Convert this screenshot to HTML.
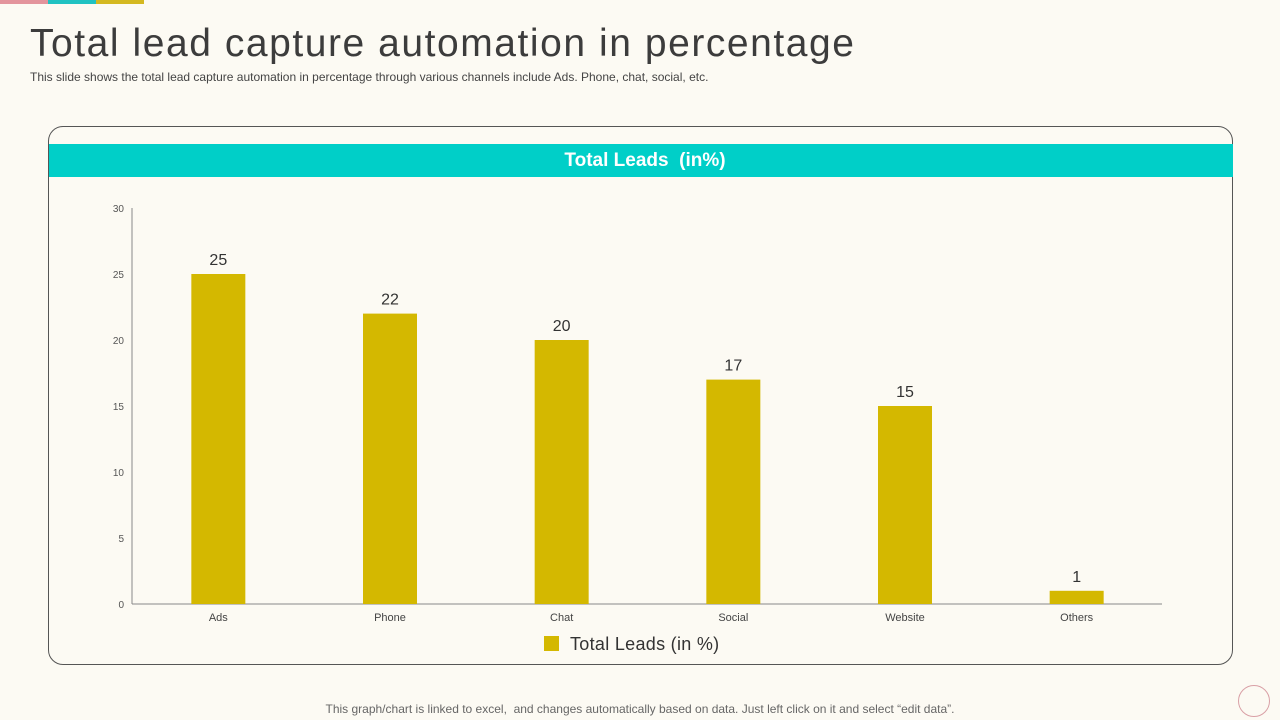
<!DOCTYPE html>
<html><head><meta charset="utf-8"><style>
body{margin:0;width:1280px;height:720px;background:#fcfaf3;font-family:"Liberation Sans",sans-serif;position:relative;overflow:hidden}
.abs{position:absolute}
</style></head><body>
<div class="abs" style="left:0;top:1;width:48px;height:4px;background:#e3949c"></div>
<div class="abs" style="left:48px;top:1;width:48px;height:4px;background:#20c2c2"></div>
<div class="abs" style="left:96px;top:1;width:48px;height:4px;background:#d4b820"></div>
<div class="abs" style="left:30px;top:22px;font-size:39px;color:#3c3c3c;letter-spacing:1.55px">Total lead capture automation in percentage</div>
<div class="abs" style="left:30px;top:70px;font-size:12px;color:#444">This slide shows the total lead capture automation in percentage through various channels include Ads. Phone, chat, social, etc.</div>
<div class="abs" style="left:48px;top:126px;width:1185px;height:539px;border:1px solid #555;border-radius:15px;box-sizing:border-box"></div>
<div class="abs" style="left:49px;top:144px;width:1184px;height:33px;background:#00cfc8;color:#fff;font-weight:bold;font-size:19px;text-align:center;line-height:33px;padding-left:8px;box-sizing:border-box">Total Leads&nbsp; (in%)</div>
<svg class="abs" style="left:0;top:0" width="1280" height="720" id="chart"></svg>
<div class="abs" style="left:0;width:1280px;top:702px;text-align:center;font-size:12px;color:#666">This graph/chart is linked to excel,&nbsp; and changes automatically based on data. Just left click on it and select “edit data”.</div>
<div class="abs" style="left:1238px;top:685px;width:32px;height:32px;border:1px solid #d9a0a6;border-radius:50%;box-sizing:border-box"></div>
<script>
const categories=["Ads","Phone","Chat","Social","Website","Others"];
const values=[25,22,20,17,15,1];
const ticks=[0,5,10,15,20,25,30];
const NS="http://www.w3.org/2000/svg";
const svg=document.getElementById('chart');
const x0=132,x1=1162,y0=604,yTop=208,ymax=30;
const y=v=>y0-(v/ymax)*(y0-yTop);
const band=(x1-x0)/categories.length;
const xc=i=>x0+band*(i+0.5);
function mk(t,a,txt){const e=document.createElementNS(NS,t);for(const k in a)e.setAttribute(k,a[k]);if(txt!==undefined)e.textContent=txt;svg.appendChild(e);return e;}
let e=mk('line',{x1:x0,y1:yTop,x2:x0,y2:y0,stroke:'#888'});

e=mk('line',{x1:x0,y1:y0,x2:x1,y2:y0,stroke:'#888'});

ticks.forEach(t=>{const l=mk('text',{x:124,y:y(t)+4,'text-anchor':'end','font-size':10,fill:'#555'},t);

});
categories.forEach((c,i)=>{
const b=mk('rect',{x:xc(i)-26.5,y:y(values[i]),width:54,height:y0-y(values[i]),fill:'#d4b800'});


const v=mk('text',{x:xc(i)+0.5,y:y(values[i])-9,'text-anchor':'middle','font-size':16,fill:'#333'},values[i]);


const l=mk('text',{x:xc(i)+0.5,y:621,'text-anchor':'middle','font-size':11,fill:'#444'},c);


});
const ls=mk('rect',{x:544,y:636,width:15,height:15,fill:'#d4b800'});


const lt=mk('text',{x:570,y:650,'font-size':18,fill:'#333','letter-spacing':'0.3'},'Total Leads (in %)');


</script>
</body></html>
